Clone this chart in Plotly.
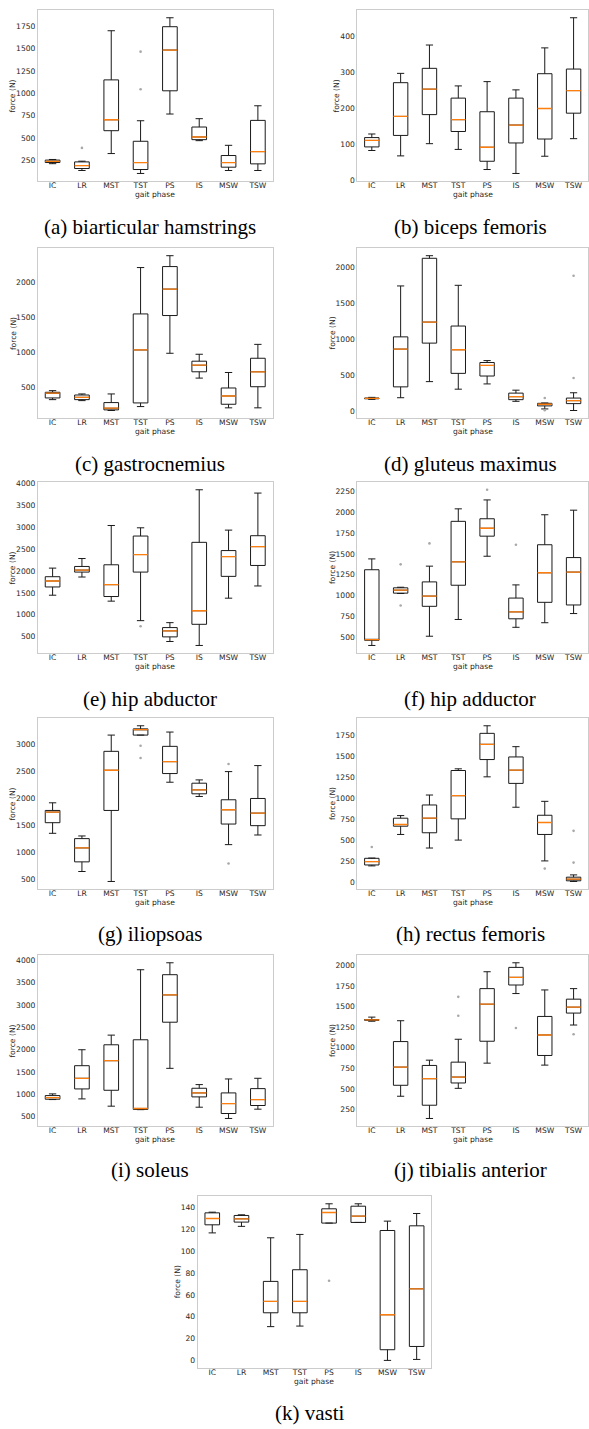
import plotly.graph_objects as go

W, H = 589, 1429

PHASES = ["IC", "LR", "MST", "TST", "PS", "IS", "MSW", "TSW"]

# Box statistics per muscle: whisker ends, quartiles and median for each gait phase,
# plus the individual outliers as (phase, force) pairs.
biarticular_hamstrings = dict(
    lo=[215, 139, 328, 106, 769, 472, 139, 139],
    q1=[228, 161, 583, 150, 1028, 483, 176, 213],
    med=[240, 194, 705, 228, 1483, 513, 228, 350],
    q3=[255, 235, 1150, 465, 1743, 624, 306, 698],
    hi=[262, 243, 1698, 694, 1843, 717, 420, 861],
    fliers=[("LR", 391), ("TST", 1465), ("TST", 1046)],
)
biceps_femoris = dict(
    lo=[83, 68, 102, 86, 30, 19, 67, 116],
    q1=[93, 125, 183, 136, 53, 104, 115, 187],
    med=[111, 178, 254, 169, 92, 154, 200, 250],
    q3=[119, 272, 312, 229, 191, 229, 297, 310],
    hi=[129, 298, 377, 263, 275, 252, 369, 453],
    fliers=[],
)
gastrocnemius = dict(
    lo=[325, 311, 170, 226, 986, 632, 208, 208],
    q1=[349, 325, 179, 278, 1524, 722, 259, 509],
    med=[418, 358, 203, 1033, 1901, 816, 377, 722],
    q3=[430, 391, 283, 1547, 2222, 873, 491, 915],
    hi=[453, 406, 406, 2208, 2377, 972, 712, 1113],
    fliers=[],
)
gluteus_maximus = dict(
    lo=[160, 183, 407, 302, 375, 133, 27, 5],
    q1=[168, 334, 943, 522, 485, 156, 69, 101],
    med=[174, 860, 1236, 851, 632, 197, 92, 142],
    q3=[178, 1030, 2124, 1181, 673, 247, 105, 178],
    hi=[188, 1739, 2160, 1748, 700, 288, 110, 252],
    fliers=[("MSW", 178), ("MSW", 10), ("TSW", 458), ("TSW", 1881)],
)
hip_abductor = dict(
    lo=[1447, 1864, 1311, 864, 386, 295, 1379, 1659],
    q1=[1636, 1977, 1417, 1977, 492, 780, 1879, 2129],
    med=[1773, 2023, 1689, 2379, 629, 1091, 2333, 2561],
    q3=[1871, 2106, 2144, 2803, 705, 2659, 2470, 2811],
    hi=[2068, 2288, 3045, 2992, 818, 3864, 2939, 3788],
    fliers=[("TST", 735)],
)
hip_adductor = dict(
    lo=[401, 1025, 512, 713, 1472, 619, 674, 784],
    q1=[463, 1029, 871, 1124, 1713, 721, 919, 887],
    med=[472, 1065, 994, 1405, 1808, 804, 1274, 1282],
    q3=[1310, 1093, 1164, 1891, 1922, 970, 1610, 1456],
    hi=[1440, 1100, 1353, 2041, 2148, 1128, 1970, 2025],
    fliers=[("LR", 1375), ("LR", 880), ("MST", 1626), ("PS", 2270), ("IS", 1610)],
)
iliopsoas = dict(
    lo=[1352, 647, 463, 3165, 2295, 2032, 1143, 1321],
    q1=[1548, 825, 1774, 3165, 2455, 2081, 1523, 1493],
    med=[1744, 1082, 2516, 3265, 2675, 2154, 1787, 1725],
    q3=[1774, 1254, 2865, 3280, 2957, 2277, 1971, 1995],
    hi=[1915, 1303, 3165, 3337, 3221, 2338, 2491, 2602],
    fliers=[("TST", 2969), ("TST", 2743), ("MSW", 2632), ("MSW", 794)],
)
rectus_femoris = dict(
    lo=[197, 570, 409, 503, 1254, 893, 256, 12],
    q1=[208, 668, 590, 755, 1459, 1176, 570, 20],
    med=[248, 688, 763, 1030, 1640, 1333, 712, 39],
    q3=[287, 763, 920, 1329, 1770, 1490, 798, 63],
    hi=[290, 794, 1038, 1349, 1860, 1612, 963, 90],
    fliers=[("IC", 421), ("MSW", 165), ("TSW", 236), ("TSW", 613)],
)
soleus = dict(
    lo=[886, 901, 738, 660, 1585, 715, 463, 671],
    q1=[894, 1124, 1094, 665, 2617, 946, 574, 753],
    med=[931, 1362, 1756, 686, 3227, 1035, 797, 886],
    q3=[975, 1644, 2112, 2224, 3680, 1139, 1035, 1131],
    hi=[1013, 2001, 2328, 3791, 3947, 1221, 1347, 1362],
    fliers=[],
)
tibialis_anterior = dict(
    lo=[1322, 411, 141, 507, 813, 1658, 789, 1276],
    q1=[1333, 544, 302, 572, 1079, 1762, 906, 1421],
    med=[1338, 765, 624, 644, 1529, 1855, 1155, 1493],
    q3=[1343, 1075, 785, 825, 1718, 1976, 1380, 1590],
    hi=[1372, 1328, 849, 1103, 1923, 2032, 1702, 1718],
    fliers=[("TST", 1388), ("TST", 1618), ("IS", 1240), ("TSW", 1163)],
)
vasti = dict(
    lo=[117, 123, 31, 31.5, 126, 126.6, 0, 0.9],
    q1=[124.4, 126.9, 43.7, 43.7, 126, 126.6, 9.8, 12.8],
    med=[130.2, 129.9, 54.1, 54.1, 135.7, 132.4, 41.9, 65.7],
    q3=[135.4, 133, 72.5, 83.2, 139.1, 141.5, 119.2, 123.5],
    hi=[136, 133.6, 112.5, 115.6, 143.7, 143.7, 127.8, 134.8],
    fliers=[("PS", 73.1)],
)

# y tick values per panel
ticks_a = [250, 500, 750, 1000, 1250, 1500, 1750]
ticks_b = [0, 100, 200, 300, 400]
ticks_c = [500, 1000, 1500, 2000]
ticks_d = [0, 500, 1000, 1500, 2000]
ticks_e = [500, 1000, 1500, 2000, 2500, 3000, 3500, 4000]
ticks_f = [500, 750, 1000, 1250, 1500, 1750, 2000, 2250]
ticks_g = [500, 1000, 1500, 2000, 2500, 3000]
ticks_h = [0, 250, 500, 750, 1000, 1250, 1500, 1750]
ticks_i = [500, 1000, 1500, 2000, 2500, 3000, 3500, 4000]
ticks_j = [250, 500, 750, 1000, 1250, 1500, 1750, 2000]
ticks_k = [0, 20, 40, 60, 80, 100, 120, 140]

captions = [
    "(a) biarticular hamstrings", "(b) biceps femoris", "(c) gastrocnemius",
    "(d) gluteus maximus", "(e) hip abductor", "(f) hip adductor",
    "(g) iliopsoas", "(h) rectus femoris", "(i) soleus",
    "(j) tibialis anterior", "(k) vasti",
]
datasets = [biarticular_hamstrings, biceps_femoris, gastrocnemius, gluteus_maximus,
            hip_abductor, hip_adductor, iliopsoas, rectus_femoris, soleus,
            tibialis_anterior, vasti]
tick_sets = [ticks_a, ticks_b, ticks_c, ticks_d, ticks_e, ticks_f,
             ticks_g, ticks_h, ticks_i, ticks_j, ticks_k]

# Panel frames in pixels: (left, right, top, bottom), caption centre (x, y)
ROWS = [(8, 180, 226), (247, 418, 464), (482, 654, 700),
        (719, 891, 936), (957, 1129, 1173), (1199, 1372, 1417)]
LEFT = (38, 273, 150)
RIGHT = (358, 589, 471)
CENTER = (198, 432, 311)

frames = []
for r in range(5):
    top, bot, cy = ROWS[r]
    for col in (LEFT, RIGHT):
        frames.append((col[0], col[1], top, bot, col[2], cy))
top, bot, cy = ROWS[5]
frames.append((CENTER[0], CENTER[1], top, bot, CENTER[2], cy))

TEXT = "#262626"
SANS = "DejaVu Sans"
FS = 7.6
pos = list(range(1, len(PHASES) + 1))

fig = go.Figure()
annotations = []
layout_axes = {}

for i, (data, ticks, cap, fr) in enumerate(zip(datasets, tick_sets, captions, frames), start=1):
    x0, x1, y0, y1, cx, cy = fr
    xa = "x" if i == 1 else f"x{i}"
    ya = "y" if i == 1 else f"y{i}"

    fig.add_trace(go.Box(
        x=pos, q1=data["q1"], median=data["med"], q3=data["q3"],
        lowerfence=data["lo"], upperfence=data["hi"],
        width=0.5, whiskerwidth=0.5, boxpoints=False,
        line=dict(color="#1a1a1a", width=1), fillcolor="white",
        hoverinfo="skip", showlegend=False, xaxis=xa, yaxis=ya,
    ))

    mx, my = [], []
    for p, m in zip(pos, data["med"]):
        mx += [p - 0.25, p + 0.25, None]
        my += [m, m, None]
    fig.add_trace(go.Scatter(
        x=mx, y=my, mode="lines", line=dict(color="#ff7f0e", width=1.3),
        hoverinfo="skip", showlegend=False, xaxis=xa, yaxis=ya,
    ))

    if data["fliers"]:
        fig.add_trace(go.Scatter(
            x=[PHASES.index(ph) + 1 for ph, _ in data["fliers"]],
            y=[v for _, v in data["fliers"]],
            mode="markers", marker=dict(size=2.6, color="#a8a8a8"),
            hoverinfo="skip", showlegend=False, xaxis=xa, yaxis=ya,
        ))

    vals = data["lo"] + data["hi"] + [v for _, v in data["fliers"]]
    vmin, vmax = min(vals), max(vals)
    pad = 0.05 * (vmax - vmin)

    common = dict(showline=True, mirror=True, linecolor="#cccccc", linewidth=1,
                  showgrid=False, zeroline=False, ticks="",
                  tickfont=dict(family=SANS, size=FS, color=TEXT))
    layout_axes["xaxis" if i == 1 else f"xaxis{i}"] = dict(
        domain=[x0 / W, x1 / W], range=[0.5, len(PHASES) + 0.5],
        tickvals=pos, ticktext=PHASES, anchor=ya, ticklabelstandoff=-3, **common)
    layout_axes["yaxis" if i == 1 else f"yaxis{i}"] = dict(
        domain=[1 - y1 / H, 1 - y0 / H], range=[vmin - pad, vmax + pad],
        tickvals=ticks, ticktext=[str(t) for t in ticks], anchor=xa, **common)

    ndig = max(len(str(t)) for t in ticks)
    annotations.append(dict(
        text="force (N)", textangle=-90, xref="paper", yref="paper",
        x=(x0 - (7 + 4.5 * ndig)) / W, y=1 - (y0 + y1) / 2 / H,
        xanchor="center", yanchor="middle", showarrow=False,
        font=dict(family=SANS, size=FS, color=TEXT)))
    annotations.append(dict(
        text="gait phase", xref="paper", yref="paper",
        x=(x0 + x1) / 2 / W, y=1 - (y1 + 13.5) / H,
        xanchor="center", yanchor="middle", showarrow=False,
        font=dict(family=SANS, size=FS, color=TEXT)))
    annotations.append(dict(
        text=cap, xref="paper", yref="paper",
        x=cx / W, y=1 - cy / H, xanchor="center", yanchor="middle",
        showarrow=False, font=dict(family="Liberation Serif", size=21, color="black")))

fig.update_layout(
    width=W, height=H, margin=dict(l=0, r=0, t=0, b=0),
    paper_bgcolor="white", plot_bgcolor="white",
    annotations=annotations, **layout_axes,
)

fig.write_html("out.html")
